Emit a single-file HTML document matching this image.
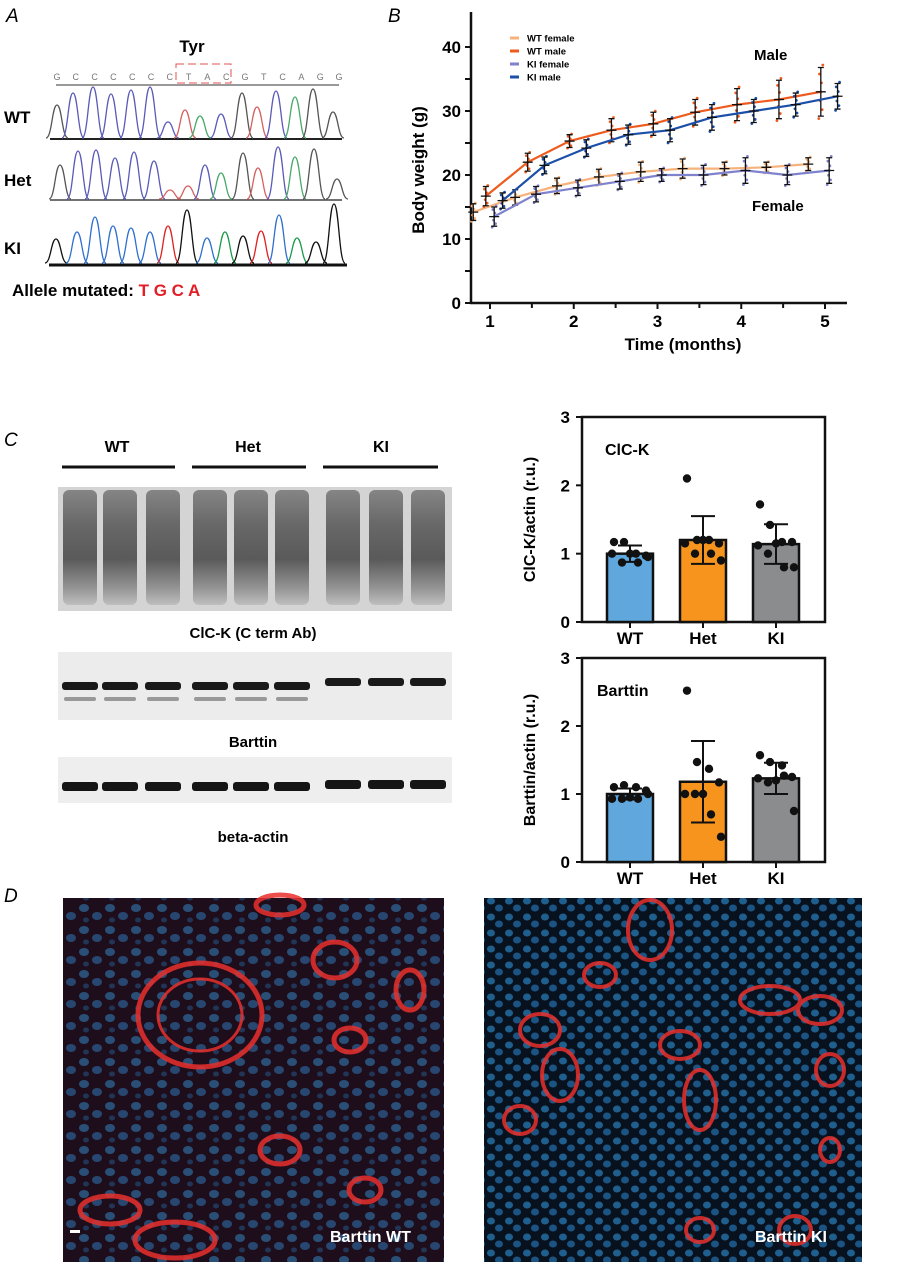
<!DOCTYPE html>
<html><head><meta charset="utf-8"><style>
body{margin:0;background:#fff}
svg{display:block;font-family:"Liberation Sans",Arial,sans-serif}
.b{font-weight:bold}
</style></head><body>
<svg id="fig" width="900" height="1284" viewBox="0 0 900 1284" xmlns="http://www.w3.org/2000/svg">
<defs>
<linearGradient id="laneG" x1="0" y1="0" x2="0" y2="1">
<stop offset="0" stop-color="#777"/><stop offset="0.3" stop-color="#555"/><stop offset="0.6" stop-color="#444"/><stop offset="0.85" stop-color="#888"/><stop offset="1" stop-color="#bbb"/></linearGradient>
<pattern id="nucWT" width="26" height="22" patternUnits="userSpaceOnUse">
<rect width="26" height="22" fill="#120e1c"/>
<ellipse cx="6" cy="6" rx="5" ry="4" fill="#215f8c"/><ellipse cx="19" cy="14" rx="5" ry="4" fill="#1d5585"/><ellipse cx="8" cy="18" rx="3" ry="2.5" fill="#163f66"/></pattern>
<pattern id="nucKI" width="18" height="16" patternUnits="userSpaceOnUse">
<rect width="18" height="16" fill="#08121f"/>
<ellipse cx="5" cy="5" rx="4" ry="3.5" fill="#1f5f8e"/><ellipse cx="13" cy="12" rx="4" ry="3.5" fill="#1b5482"/></pattern>
</defs>

<text x="6" y="22" font-size="19" font-style="italic">A</text>
<text x="388" y="22" font-size="19" font-style="italic">B</text>
<text x="4" y="446" font-size="19" font-style="italic">C</text>
<text x="4" y="902" font-size="19" font-style="italic">D</text>

<g id="panelA">
<text x="192" y="52" font-size="17" class="b" text-anchor="middle">Tyr</text>
<g id="seqLetters" font-size="9" fill="#777"></g>
<rect x="176" y="64" width="55" height="19" fill="none" stroke="#e05050" stroke-width="1" stroke-dasharray="8,4"/>
<line x1="56" y1="85" x2="339" y2="85" stroke="#999" stroke-width="2"/>
<text x="4" y="123" font-size="17" class="b">WT</text>
<text x="4" y="186" font-size="17" class="b">Het</text>
<text x="4" y="254" font-size="17" class="b">KI</text>
<line x1="50" y1="139" x2="342" y2="139" stroke="#222" stroke-width="2"/>
<line x1="50" y1="200" x2="342" y2="200" stroke="#444" stroke-width="1.5"/>
<line x1="49" y1="265" x2="347" y2="265" stroke="#111" stroke-width="3"/>
<g id="traces" fill="none" stroke-width="1.3"></g>
<text x="12" y="296" font-size="17" class="b">Allele mutated: <tspan fill="#e21f26">T G C A</tspan></text>
</g>

<g id="panelB">
<text transform="translate(424,170) rotate(-90)" font-size="17" class="b" text-anchor="middle">Body weight (g)</text>
<text x="683" y="350" font-size="17" class="b" text-anchor="middle">Time (months)</text>
<text x="754" y="60" font-size="15" class="b">Male</text>
<text x="752" y="211" font-size="15" class="b">Female</text>
<g id="bAxes"></g><g id="bSeries"></g><g id="bLegend"></g>
</g>

<g id="blots">
<text x="117" y="452" font-size="16" class="b" text-anchor="middle">WT</text>
<text x="248" y="452" font-size="16" class="b" text-anchor="middle">Het</text>
<text x="381" y="452" font-size="16" class="b" text-anchor="middle">KI</text>
<line x1="62" y1="467" x2="175" y2="467" stroke="#111" stroke-width="3"/>
<line x1="192" y1="467" x2="306" y2="467" stroke="#111" stroke-width="3"/>
<line x1="323" y1="467" x2="438" y2="467" stroke="#111" stroke-width="3"/>
<rect x="58" y="487" width="394" height="124" fill="#d4d4d4"/>
<g id="clckLanes"></g>
<text x="253" y="638" font-size="15" class="b" text-anchor="middle">ClC-K (C term Ab)</text>
<rect x="58" y="652" width="394" height="68" fill="#ececec"/>
<g id="barttinBands"></g>
<text x="253" y="747" font-size="15" class="b" text-anchor="middle">Barttin</text>
<rect x="58" y="757" width="394" height="46" fill="#eeeeee"/>
<g id="actinBands"></g>
<text x="253" y="842" font-size="15" class="b" text-anchor="middle">beta-actin</text>
</g>

<g id="barTop"></g>
<g id="barBot"></g>

<g>
<rect x="63" y="898" width="381" height="364" fill="url(#nucWT)"/>
<rect x="63" y="898" width="381" height="364" fill="#501020" opacity="0.2"/>
<g fill="none" stroke="#e8302c" stroke-width="5" opacity="0.85">
<ellipse cx="200" cy="1015" rx="62" ry="52"/><ellipse cx="200" cy="1015" rx="42" ry="36" stroke-width="3"/>
<ellipse cx="335" cy="960" rx="22" ry="18"/><ellipse cx="410" cy="990" rx="14" ry="20"/>
<ellipse cx="350" cy="1040" rx="16" ry="12"/><ellipse cx="175" cy="1240" rx="40" ry="18"/><ellipse cx="110" cy="1210" rx="30" ry="14"/>
<ellipse cx="280" cy="1150" rx="20" ry="14"/><ellipse cx="365" cy="1190" rx="16" ry="12"/><ellipse cx="280" cy="905" rx="24" ry="10"/>
</g>
<rect x="70" y="1230" width="10" height="3" fill="#fff"/>
<text x="330" y="1242" font-size="16" class="b" fill="#fff">Barttin WT</text>
</g>
<g>
<rect x="484" y="898" width="378" height="364" fill="url(#nucKI)"/>
<g fill="none" stroke="#e8302c" stroke-width="4" opacity="0.85">
<ellipse cx="650" cy="930" rx="22" ry="30"/><ellipse cx="600" cy="975" rx="16" ry="12"/><ellipse cx="540" cy="1030" rx="20" ry="16"/>
<ellipse cx="560" cy="1075" rx="18" ry="26"/><ellipse cx="520" cy="1120" rx="16" ry="14"/><ellipse cx="680" cy="1045" rx="20" ry="14"/>
<ellipse cx="700" cy="1100" rx="16" ry="30"/><ellipse cx="770" cy="1000" rx="30" ry="14"/><ellipse cx="820" cy="1010" rx="22" ry="14"/>
<ellipse cx="830" cy="1070" rx="14" ry="16"/><ellipse cx="795" cy="1230" rx="16" ry="14"/><ellipse cx="700" cy="1230" rx="14" ry="12"/><ellipse cx="830" cy="1150" rx="10" ry="12"/>
</g>
<text x="755" y="1242" font-size="16" class="b" fill="#fff">Barttin KI</text>
</g>
</svg>
<script>
const wtMaleX=[0.95,1.45,1.95,2.45,2.95,3.45,3.95,4.45,4.95];
const wtMaleY=[16.7,22,25.3,27,28,29.8,31,31.8,33];
const wtMaleErr=[1.5,1.4,1,1.8,1.8,2,2.5,3,3.8];
const wtFemX=[0.8,1.3,1.8,2.3,2.8,3.3,3.8,4.3,4.8];
const wtFemY=[14.2,16.5,18.3,19.7,20.5,21,21,21.2,21.7];
const wtFemErr=[1.3,1.2,1.2,1.2,1.5,1.5,1,0.8,1];
const kiFemX=[1.05,1.55,2.05,2.55,3.05,3.55,4.05,4.55,5.05];
const kiFemY=[13.5,17,18,19,20,20,20.7,20,20.7];
const kiFemErr=[1.5,1.2,1.2,1.2,1,1.5,2,1.5,2];
const kiMaleX=[1.15,1.65,2.15,2.65,3.15,3.65,4.15,4.65,5.15];
const kiMaleY=[16,21.5,24.2,26.3,27,29,30,31,32.3];
const kiMaleErr=[1.2,1.3,1.3,1.5,1.8,2,1.8,1.8,2];
const yTicksB=[0,10,20,30,40];
const xTicksB=[1,2,3,4,5];

const groups=["WT","Het","KI"];
const clckMean=[1.0,1.2,1.14];
const clckSD=[0.12,0.35,0.29];
const clckWT=[1.17,1.17,1.0,0.97,1.0,0.87,0.87,0.95,1.0];
const clckHet=[2.1,1.2,1.2,1.15,1.15,1.0,1.0,0.9,1.2];
const clckKI=[1.72,1.42,1.17,1.17,1.12,1.0,0.8,0.8,1.15];
const bartMean=[1.0,1.18,1.23];
const bartSD=[0.08,0.6,0.23];
const bartWT=[1.1,1.13,1.1,1.05,0.93,0.93,0.93,1.0,0.95];
const bartHet=[2.52,1.47,1.37,1.17,1.0,1.0,0.7,0.37,1.0];
const bartKI=[1.57,1.47,1.42,1.25,1.23,1.17,1.27,0.75,1.2];
const barTicks=[0,1,2,3];

const NS="http://www.w3.org/2000/svg";
function mk(tag,attrs,parent){const e=document.createElementNS(NS,tag);for(const k in attrs)e.setAttribute(k,attrs[k]);parent.appendChild(e);return e;}

const seq="GCCCCCCTACGTCAGG".split("");
const sl=document.getElementById("seqLetters");
seq.forEach((c,i)=>{const t=mk("text",{x:57+i*18.8,y:80,"text-anchor":"middle"},sl);t.textContent=c;});
const colors={k:"#555",b:"#5a5ab8",r:"#d46060",g:"#4aa86a",K:"#111",B:"#2f6fd0",R:"#e02020",G:"#1a9a4a"};
const traceWT=[[57,105,"k"],[73,93,"b"],[93,87,"b"],[111,94,"b"],[131,90,"b"],[150,87,"b"],[168,122,"b"],[185,110,"r"],[200,116,"g"],[221,114,"b"],[242,93,"k"],[257,107,"r"],[276,91,"b"],[295,97,"g"],[313,89,"k"],[333,112,"k"]];
const traceHet=[[60,165,"k"],[78,151,"b"],[96,150,"b"],[115,158,"b"],[134,152,"b"],[154,161,"b"],[170,190,"r"],[188,186,"r"],[205,165,"b"],[221,173,"g"],[243,153,"k"],[258,168,"r"],[278,147,"b"],[295,157,"g"],[314,149,"k"],[337,179,"k"]];
const traceKI=[[56,239,"K"],[77,232,"B"],[95,217,"B"],[113,226,"B"],[131,228,"B"],[150,232,"B"],[168,226,"R"],[187,210,"K"],[207,238,"B"],[225,232,"G"],[243,236,"K"],[261,231,"R"],[279,215,"B"],[297,238,"G"],[316,242,"K"],[334,204,"K"]];
const tg=document.getElementById("traces");
function drawTrace(tr,base,name){tr.forEach(p=>{const[x,top,c]=p;const path=mk("path",{d:`M${x-11},${base} C${x-5},${base} ${x-5},${top} ${x},${top} C${x+5},${top} ${x+5},${base} ${x+11},${base}`,stroke:colors[c]},tg);

});}
drawTrace(traceWT,138,"wt-peak");drawTrace(traceHet,199,"het-peak");drawTrace(traceKI,263,"ki-peak");

const bx=v=>490+(v-1)*83.75, by=v=>303-v*6.4;
const ax=document.getElementById("bAxes");
mk("line",{x1:471,y1:12,x2:471,y2:304,stroke:"#111","stroke-width":2.5},ax);
mk("line",{x1:470,y1:303,x2:847,y2:303,stroke:"#111","stroke-width":2.5},ax);
yTicksB.forEach(v=>{mk("line",{x1:465,y1:by(v),x2:471,y2:by(v),stroke:"#111","stroke-width":2},ax);
const t=mk("text",{x:461,y:by(v)+6,"font-size":17,"font-weight":"bold","text-anchor":"end"},ax);t.textContent=v;


if(v<40)mk("line",{x1:465,y1:by(v+5),x2:471,y2:by(v+5),stroke:"#111","stroke-width":2},ax);});
xTicksB.forEach(v=>{mk("line",{x1:bx(v),y1:303,x2:bx(v),y2:309,stroke:"#111","stroke-width":2},ax);
if(v<5)mk("line",{x1:bx(v+0.5),y1:303,x2:bx(v+0.5),y2:308,stroke:"#111","stroke-width":2},ax);
const t=mk("text",{x:bx(v),y:327,"font-size":17,"font-weight":"bold","text-anchor":"middle"},ax);t.textContent=v;

});
const bs=document.getElementById("bSeries");
function series(X,Y,E,col,name){
  const pts=X.map((x,i)=>bx(x)+","+by(Y[i])).join(" ");
  const pl=mk("polyline",{points:pts,fill:"none",stroke:col,"stroke-width":2.2},bs);
  
  
  X.forEach((x,i)=>{const cx=bx(x);
    for(let k=-3;k<=3;k++){mk("circle",{cx:cx+(k%2?2:-2)*(k/3),cy:by(Y[i]+E[i]*k/3*1.1),r:1.4,fill:col},bs);}
    const eb=mk("path",{d:`M${cx},${by(Y[i]-E[i])}V${by(Y[i]+E[i])}M${cx-3},${by(Y[i]-E[i])}h6M${cx-3},${by(Y[i]+E[i])}h6M${cx-5},${by(Y[i])}h10`,stroke:"#111","stroke-width":1.3,fill:"none"},bs);
    
    
  });
}
series(wtFemX,wtFemY,wtFemErr,"#f6b27a","wt-female");
series(kiFemX,kiFemY,kiFemErr,"#7f82cc","ki-female");
series(wtMaleX,wtMaleY,wtMaleErr,"#ee5b1e","wt-male");
series(kiMaleX,kiMaleY,kiMaleErr,"#1b4fa8","ki-male");
const lg=document.getElementById("bLegend");
[["WT female","#f6b27a"],["WT male","#ee5b1e"],["KI female","#7f82cc"],["KI male","#1b4fa8"]].forEach((e,i)=>{
  const y=38+i*13;
  mk("line",{x1:510,y1:y,x2:519,y2:y,stroke:e[1],"stroke-width":3},lg);
  const t=mk("text",{x:527,y:y+3.5,"font-size":9.5,"font-weight":"bold"},lg);t.textContent=e[0];
  
  
});

const laneX=[80,120,163,210,251,292,343,386,428];
const cl=document.getElementById("clckLanes");
laneX.forEach(x=>{mk("rect",{x:x-17,y:490,width:34,height:115,rx:6,fill:"url(#laneG)",opacity:0.85},cl);});
const bb=document.getElementById("barttinBands");
laneX.forEach((x,i)=>{mk("rect",{x:x-18,y:i>5?678:682,width:36,height:8,rx:3,fill:"#1a1a1a"},bb);
 if(i<6)mk("rect",{x:x-16,y:697,width:32,height:4,rx:2,fill:"#999"},bb);});
const ab=document.getElementById("actinBands");
laneX.forEach((x,i)=>{mk("rect",{x:x-18,y:i>5?780:782,width:36,height:9,rx:3,fill:"#151515"},ab);});

const offs=[-16,-6,6,16,-18,-8,8,18,0];
function barChart(gid,top,zero,means,sds,dots,title,ylab){
  const g=document.getElementById(gid);
  const sy=v=>zero-(zero-top)/3*v;
  const cx=[630,703,776];
  const fills=["#5fa7dc","#f7941d","#8a8c8e"];
  mk("rect",{x:582,y:top,width:243,height:zero-top,fill:"none",stroke:"#111","stroke-width":2.5},g);
  barTicks.forEach(v=>{mk("line",{x1:576,y1:sy(v),x2:582,y2:sy(v),stroke:"#111","stroke-width":2},g);
    const t=mk("text",{x:570,y:sy(v)+6,"font-size":17,"font-weight":"bold","text-anchor":"end"},g);t.textContent=v;
    
    });
  const yl=mk("text",{transform:`translate(535,${(top+zero)/2}) rotate(-90)`,"font-size":16,"font-weight":"bold","text-anchor":"middle"},g);yl.textContent=ylab;
  
  
  const tt=mk("text",{x:title==="ClC-K"?605:597,y:top+38,"font-size":16,"font-weight":"bold"},g);tt.textContent=title;
  
  
  groups.forEach((gr,i)=>{
    const r=mk("rect",{x:cx[i]-23,y:sy(means[i]),width:46,height:zero-sy(means[i]),fill:fills[i],stroke:"#111","stroke-width":2.5},g);
    
    
    mk("line",{x1:cx[i],y1:zero,x2:cx[i],y2:zero+6,stroke:"#111","stroke-width":2},g);
    dots[i].forEach((v,k)=>{const d=mk("circle",{cx:cx[i]+offs[k],cy:sy(v),r:4.2,fill:"#111"},g);
      
      });
    mk("path",{d:`M${cx[i]},${sy(means[i]-sds[i])}V${sy(means[i]+sds[i])}M${cx[i]-12},${sy(means[i]-sds[i])}h24M${cx[i]-12},${sy(means[i]+sds[i])}h24`,stroke:"#111","stroke-width":2,fill:"none"},g);
    const xl=mk("text",{x:cx[i],y:zero+22,"font-size":17,"font-weight":"bold","text-anchor":"middle"},g);xl.textContent=gr;
    
    
  });
}
barChart("barTop",417,622,clckMean,clckSD,[clckWT,clckHet,clckKI],"ClC-K","ClC-K/actin (r.u.)");
barChart("barBot",658,862,bartMean,bartSD,[bartWT,bartHet,bartKI],"Barttin","Barttin/actin (r.u.)");
</script>
</body></html>
